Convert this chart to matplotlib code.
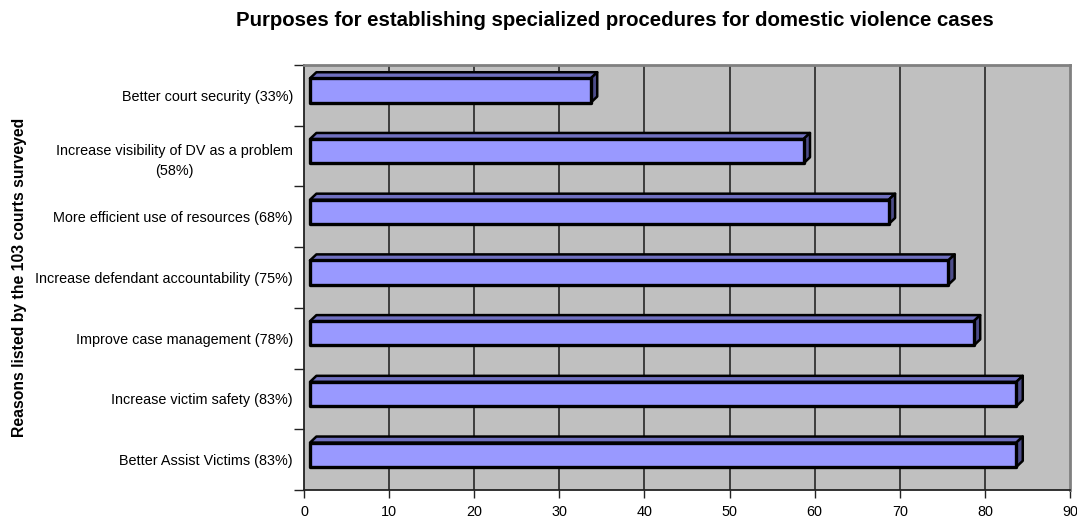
import matplotlib.pyplot as plt
from matplotlib.patches import Polygon

plt.rcParams['font.family'] = ['Liberation Sans', 'DejaVu Sans']

# data (bottom to top)
categories = ['Better Assist Victims (83%)', 'Increase victim safety (83%)',
              'Improve case management (78%)', 'Increase defendant accountability (75%)',
              'More efficient use of resources (68%)',
              'Increase visibility of DV as a problem\n(58%)', 'Better court security (33%)']
values = [83, 83, 78, 75, 68, 58, 33]
xticks = [0, 10, 20, 30, 40, 50, 60, 70, 80, 90]

fig = plt.figure(figsize=(10.77, 5.18), dpi=100)
ax = fig.add_axes([0.2823, 0.0541, 0.7112, 0.8205])
ax.set_xlim(0, 90)
ax.set_ylim(0, len(categories))
ax.set_facecolor('#C0C0C0')

# gridlines
for x in xticks[1:-1]:
    ax.axvline(x, color='#333333', lw=1.3, zorder=1)

# 3D-ish bars
x0 = 0.7      # bars start slightly right of the axis
dx = 0.75     # depth offset in data units (x)
dy = 0.1      # depth offset in category units (y)
h = 0.4
front_c, top_c, side_c = '#9999FF', '#7070C0', '#4D4D8A'
for i, v in enumerate(values):
    yc = i + 0.5 + 0.08
    y1, y2 = yc - h / 2, yc + h / 2
    x1, x2 = x0, x0 + v
    top = Polygon([(x1, y2), (x2, y2), (x2 + dx, y2 + dy), (x1 + dx, y2 + dy)],
                  closed=True, fc=top_c, ec='black', lw=1.8, joinstyle='round', zorder=3)
    side = Polygon([(x2, y1), (x2 + dx, y1 + dy), (x2 + dx, y2 + dy), (x2, y2)],
                   closed=True, fc=side_c, ec='black', lw=1.8, joinstyle='round', zorder=3)
    front = Polygon([(x1, y1), (x2, y1), (x2, y2), (x1, y2)],
                    closed=True, fc=front_c, ec='black', lw=2.4, joinstyle='round', zorder=4)
    ax.add_patch(top)
    ax.add_patch(side)
    ax.add_patch(front)

# spines
ax.spines['top'].set_color('#808080')
ax.spines['right'].set_color('#808080')
ax.spines['top'].set_linewidth(2)
ax.spines['right'].set_linewidth(2)
ax.spines['left'].set_color('#222222')
ax.spines['bottom'].set_color('#222222')
ax.spines['left'].set_linewidth(1.3)
ax.spines['bottom'].set_linewidth(1.3)

ax.set_xticks(xticks)
ax.set_xticklabels([str(t) for t in xticks], fontsize=10.4)
ax.set_yticks(range(len(categories) + 1))
ax.set_yticklabels([])
ax.set_yticks([i + 0.5 for i in range(len(categories))], minor=True)
ax.set_yticklabels(categories, minor=True, fontsize=10.4, multialignment='center',
                   linespacing=1.6)
ax.tick_params(axis='y', which='minor', length=0, pad=8)
ax.tick_params(axis='y', which='major', length=7, width=1, color='#222222', direction='out')
ax.tick_params(axis='x', length=6, width=1, color='#222222', direction='out', pad=5)

ax.set_ylabel('Reasons listed by the 103 courts surveyed', fontsize=11.3, fontweight='bold')
ax.yaxis.set_label_coords(-0.362, 0.5)

fig.suptitle('Purposes for establishing specialized procedures for domestic violence cases',
             fontsize=14.7, fontweight='bold', x=0.571, y=0.978, va='top')

plt.savefig('out.png', dpi=100)
